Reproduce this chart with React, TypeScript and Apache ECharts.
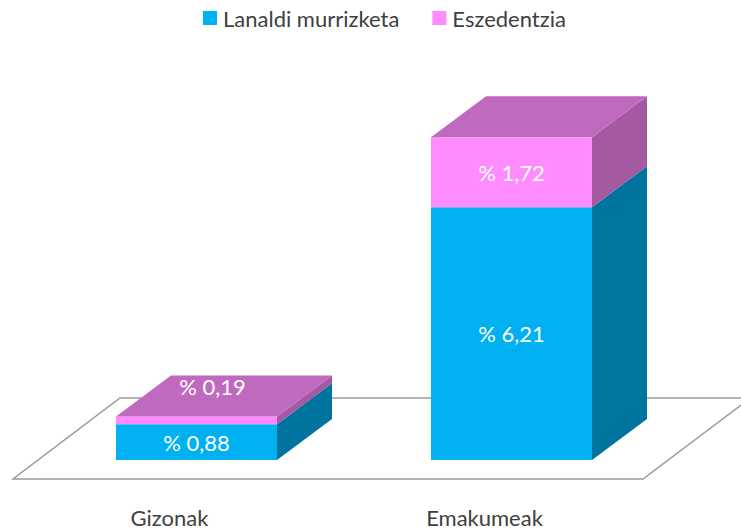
import React, { useEffect, useRef } from "react";
import * as echarts from "echarts";

const categories = ["Gizonak", "Emakumeak"];
const lanaldiValues = [0.88, 6.21];
const eszedentziaValues = [0.19, 1.72];
const zeros = [0, 0];

const FONT = "Lato, 'Open Sans', sans-serif";
const BAR_RATIO = 161 / 315;
const DX = 55;
const DY = -41;
const SHIFT = 27;

const fmt = (v: number) => "% " + v.toFixed(2).replace(".", ",");

function makeRender(
  base: number[],
  front: string,
  side: string,
  top: string | null
) {
  return (params: any, api: any) => {
    const i = api.value(0);
    const v = api.value(1);
    const b = base[i];
    const band = api.size([1, 0])[0];
    const w = band * BAR_RATIO;
    const [cx, y0] = api.coord([i, b]);
    const [, y1] = api.coord([i, b + v]);
    const x0 = Math.round(cx + SHIFT - w / 2);
    const x1 = x0 + Math.round(w);
    const children: any[] = [
      {
        type: "rect",
        shape: { x: x0, y: y1, width: x1 - x0, height: y0 - y1 },
        style: { fill: front },
      },
      {
        type: "polygon",
        shape: {
          points: [
            [x1, y0],
            [x1 + DX, y0 + DY],
            [x1 + DX, y1 + DY],
            [x1, y1],
          ],
        },
        style: { fill: side },
      },
    ];
    if (top) {
      children.push({
        type: "polygon",
        shape: {
          points: [
            [x0, y1],
            [x0 + DX, y1 + DY],
            [x1 + DX, y1 + DY],
            [x1, y1],
          ],
        },
        style: { fill: top },
      });
    }
    const thin = y0 - y1 < 20;
    children.push({
      type: "text",
      x: (x0 + x1) / 2 + (thin ? 16 : 0),
      y: thin ? y1 - 30 : (y0 + y1) / 2,
      style: {
        text: fmt(v),
        fill: "#ffffff",
        font: `22px ${FONT}`,
        align: "center",
        verticalAlign: "middle",
      },
    });
    return { type: "group", children };
  };
}

export default function App() {
  const ref = useRef<HTMLDivElement>(null);
  useEffect(() => {
    document.body.style.margin = "0";
    const chart = echarts.init(ref.current!, null, { renderer: "svg" });
    chart.setOption({
      animation: false,
      backgroundColor: "#ffffff",
      legend: {
        left: 198,
        top: 2,
        itemWidth: 14,
        itemHeight: 14,
        itemGap: 33,
        icon: "rect",
        textStyle: { fontFamily: FONT, fontSize: 22, color: "#404040", padding: [0, 0, 0, 1] },
        data: ["Lanaldi murrizketa", "Eszedentzia"],
      },
      grid: { left: 12, width: 630, top: 53, height: 407 },
      xAxis: {
        type: "category",
        data: categories,
        axisLine: { show: false },
        axisTick: { show: false },
        splitLine: { show: false },
        axisLabel: {
          margin: 46,
          fontFamily: FONT,
          fontSize: 22,
          color: "#404040",
        },
      },
      yAxis: { type: "value", min: 0, max: 10, show: false },
      graphic: [
        {
          type: "polyline",
          z: -1,
          silent: true,
          shape: {
            points: [
              [741, 405],
              [643, 479],
              [13, 479],
              [120, 398],
              [741, 398],
            ],
          },
          style: { fill: "none", stroke: "#9a9a9a", lineWidth: 1.5 },
        },
      ],
      series: [
        {
          name: "Lanaldi murrizketa",
          type: "custom",
          clip: false,
          z: 2,
          itemStyle: { color: "#00B0F0" },
          encode: { x: 0, y: 1 },
          data: lanaldiValues.map((v, i) => [i, v]),
          renderItem: makeRender(zeros, "#00B0F0", "#00739E", null),
        },
        {
          name: "Eszedentzia",
          type: "custom",
          clip: false,
          z: 3,
          itemStyle: { color: "#FF8BFF" },
          encode: { x: 0, y: 1 },
          data: eszedentziaValues.map((v, i) => [i, v]),
          renderItem: makeRender(lanaldiValues, "#FF8BFF", "#A35AA1", "#C06ABF"),
        },
      ],
    });
    return () => chart.dispose();
  }, []);
  return (
    <div
      ref={ref}
      style={{ position: "fixed", left: 0, top: 0, width: 741, height: 531, overflow: "hidden" }}
    />
  );
}
